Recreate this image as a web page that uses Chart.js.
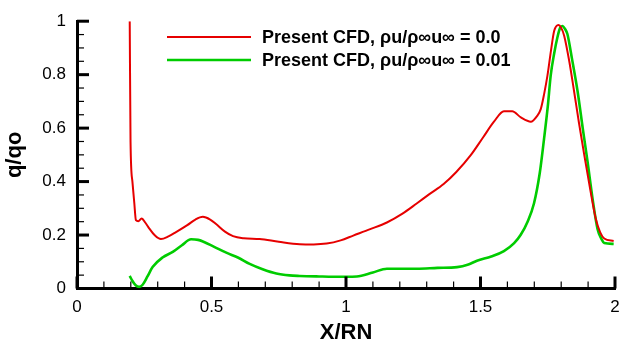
<!DOCTYPE html>
<html>
<head>
<meta charset="utf-8">
<script src="https://cdn.jsdelivr.net/npm/chart.js@4"></script>
<style>
  body { margin: 0; background: #fff; }
  #wrap { width: 620px; height: 350px; }
</style>
</head>
<body>
<div id="wrap"><canvas id="myChart" width="620" height="350"></canvas></div>
<script>
// ρu/ρ∞u∞ = 0.0
var redX = [0.196, 0.199, 0.206, 0.213, 0.219, 0.228, 0.24, 0.255, 0.269, 0.29, 0.312, 0.34, 0.368, 0.41, 0.44, 0.468, 0.495, 0.517, 0.55, 0.58, 0.62, 0.679, 0.75, 0.828, 0.88, 0.928, 0.98, 1.027, 1.09, 1.152, 1.21, 1.264, 1.31, 1.363, 1.41, 1.463, 1.51, 1.55, 1.587, 1.618, 1.65, 1.687, 1.71, 1.724, 1.737, 1.749, 1.762, 1.774, 1.79, 1.8, 1.811, 1.83, 1.848, 1.866, 1.886, 1.908, 1.929, 1.945, 1.96, 1.995];
var redY = [1.0, 0.55, 0.40, 0.32, 0.256, 0.252, 0.262, 0.245, 0.224, 0.198, 0.185, 0.195, 0.211, 0.237, 0.258, 0.268, 0.258, 0.241, 0.213, 0.196, 0.188, 0.185, 0.175, 0.166, 0.165, 0.168, 0.18, 0.198, 0.222, 0.247, 0.28, 0.319, 0.353, 0.391, 0.436, 0.498, 0.566, 0.624, 0.663, 0.663, 0.64, 0.624, 0.645, 0.671, 0.73, 0.797, 0.89, 0.964, 0.986, 0.975, 0.946, 0.85, 0.737, 0.62, 0.498, 0.37, 0.259, 0.21, 0.187, 0.178];

// ρu/ρ∞u∞ = 0.01
var greenX = [0.196, 0.205, 0.218, 0.231, 0.244, 0.262, 0.281, 0.318, 0.356, 0.39, 0.424, 0.45, 0.468, 0.51, 0.555, 0.6, 0.642, 0.69, 0.741, 0.79, 0.828, 0.9, 0.953, 1.0, 1.04, 1.1, 1.152, 1.2, 1.264, 1.34, 1.413, 1.455, 1.487, 1.54, 1.587, 1.625, 1.649, 1.675, 1.699, 1.72, 1.736, 1.75, 1.761, 1.774, 1.786, 1.796, 1.804, 1.815, 1.823, 1.84, 1.861, 1.88, 1.898, 1.916, 1.935, 1.95, 1.96, 1.995];
var greenY = [0.047, 0.03, 0.012, 0.006, 0.014, 0.045, 0.08, 0.116, 0.137, 0.162, 0.184, 0.182, 0.176, 0.156, 0.134, 0.115, 0.092, 0.072, 0.056, 0.049, 0.047, 0.045, 0.044, 0.044, 0.045, 0.06, 0.074, 0.074, 0.074, 0.077, 0.08, 0.09, 0.104, 0.12, 0.14, 0.17, 0.2, 0.25, 0.319, 0.43, 0.558, 0.68, 0.797, 0.88, 0.94, 0.975, 0.982, 0.97, 0.952, 0.86, 0.737, 0.6, 0.474, 0.34, 0.223, 0.185, 0.17, 0.167];

var seriesLabels = ["Present CFD, ρu/ρ∞u∞ = 0.0", "Present CFD, ρu/ρ∞u∞ = 0.01"];
var seriesColors = ["#e60000", "#00cc00"];
var xTitle = "X/RN";
var yTitle = "q/qo";

function toPoints(xs, ys) {
    var pts = [];
    for (let i = 0; i < xs.length; i++) {
        pts.push({ x: xs[i], y: ys[i] });
    }
    return pts;
}

// plain number labels: 0, 0.5, 1 ... (no trailing .0)
function plainLabel(value) {
    return String(Math.round(value * 100) / 100);
}

// tecplot style ticks: pointing inward, major + minor
var innerTicks = {
    id: "innerTicks",
    afterDatasetsDraw(chart) {
        var ctx = chart.ctx;
        var xs = chart.scales.x, ys = chart.scales.y;
        var area = chart.chartArea;
        ctx.save();
        ctx.strokeStyle = "#000";
        for (let i = 0; i <= 20; i++) {
            var v = i * 0.1;
            var major = i % 5 === 0;
            var px = xs.getPixelForValue(v);
            ctx.lineWidth = major ? 3 : 1.2;
            ctx.beginPath();
            ctx.moveTo(px, area.bottom);
            ctx.lineTo(px, area.bottom - (major ? 12 : 7));
            ctx.stroke();
        }
        for (let i = 0; i <= 20; i++) {
            var v = i * 0.05;
            var major = i % 4 === 0;
            var py = ys.getPixelForValue(v);
            ctx.lineWidth = major ? 3 : 1.2;
            ctx.beginPath();
            ctx.moveTo(area.left, py);
            ctx.lineTo(area.left + (major ? 12 : 7), py);
            ctx.stroke();
        }
        ctx.restore();
    }
};

// legend drawn inside the plot, like the original
var insideLegend = {
    id: "insideLegend",
    afterDraw(chart) {
        var ctx = chart.ctx;
        ctx.save();
        ctx.font = "bold 18px 'Liberation Sans', Arial, sans-serif";
        ctx.textBaseline = "middle";
        ctx.fillStyle = "#000";
        var rows = [37, 60];
        chart.data.datasets.forEach(function (ds, i) {
            ctx.strokeStyle = ds.borderColor;
            ctx.lineWidth = ds.borderWidth;
            ctx.beginPath();
            ctx.moveTo(167, rows[i]);
            ctx.lineTo(251, rows[i]);
            ctx.stroke();
            ctx.fillText(ds.label, 262, rows[i] + 1);
        });
        ctx.restore();
    }
};

var tickFont = { family: "'Liberation Sans', Arial, sans-serif", size: 17 };
var titleFont = { family: "'Liberation Sans', Arial, sans-serif", size: 22, weight: "bold" };

var chart = new Chart("myChart", {
    type: "scatter",
    data: {
        datasets: [
            {
                label: seriesLabels[0],
                data: toPoints(redX, redY),
                borderColor: seriesColors[0],
                borderWidth: 2,
                showLine: true,
                pointRadius: 0,
                cubicInterpolationMode: "monotone",
                fill: false
            },
            {
                label: seriesLabels[1],
                data: toPoints(greenX, greenY),
                borderColor: seriesColors[1],
                borderWidth: 2.6,
                showLine: true,
                pointRadius: 0,
                cubicInterpolationMode: "monotone",
                fill: false
            }
        ]
    },
    options: {
        responsive: false,
        animation: false,
        layout: { padding: { top: 10, right: 2, left: 0, bottom: 0 } },
        plugins: {
            legend: { display: false },
            tooltip: { enabled: false }
        },
        scales: {
            x: {
                type: "linear",
                min: 0,
                max: 2,
                afterFit: function (scale) {
                    scale.height = 61.5;
                    scale.paddingLeft = 0;
                    scale.paddingRight = 5;
                },
                grid: { display: true, drawOnChartArea: false, drawTicks: false },
                border: { display: true, color: "#000", width: 3 },
                ticks: {
                    stepSize: 0.5,
                    padding: 9,
                    color: "#000",
                    font: tickFont,
                    maxRotation: 0,
                    callback: plainLabel
                },
                title: {
                    display: true,
                    text: xTitle,
                    color: "#000",
                    font: titleFont,
                    padding: { top: 0, bottom: 4 }
                }
            },
            y: {
                type: "linear",
                min: 0,
                max: 1,
                afterFit: function (scale) { scale.width = 77; },
                grid: { display: true, drawOnChartArea: false, drawTicks: false },
                border: { display: true, color: "#000", width: 3 },
                ticks: {
                    stepSize: 0.2,
                    padding: 11,
                    color: "#000",
                    font: tickFont,
                    callback: plainLabel
                },
                title: {
                    display: true,
                    text: yTitle,
                    color: "#000",
                    font: titleFont,
                    padding: { top: 2, bottom: 0 }
                }
            }
        }
    },
    plugins: [innerTicks, insideLegend]
});
</script>
</body>
</html>
